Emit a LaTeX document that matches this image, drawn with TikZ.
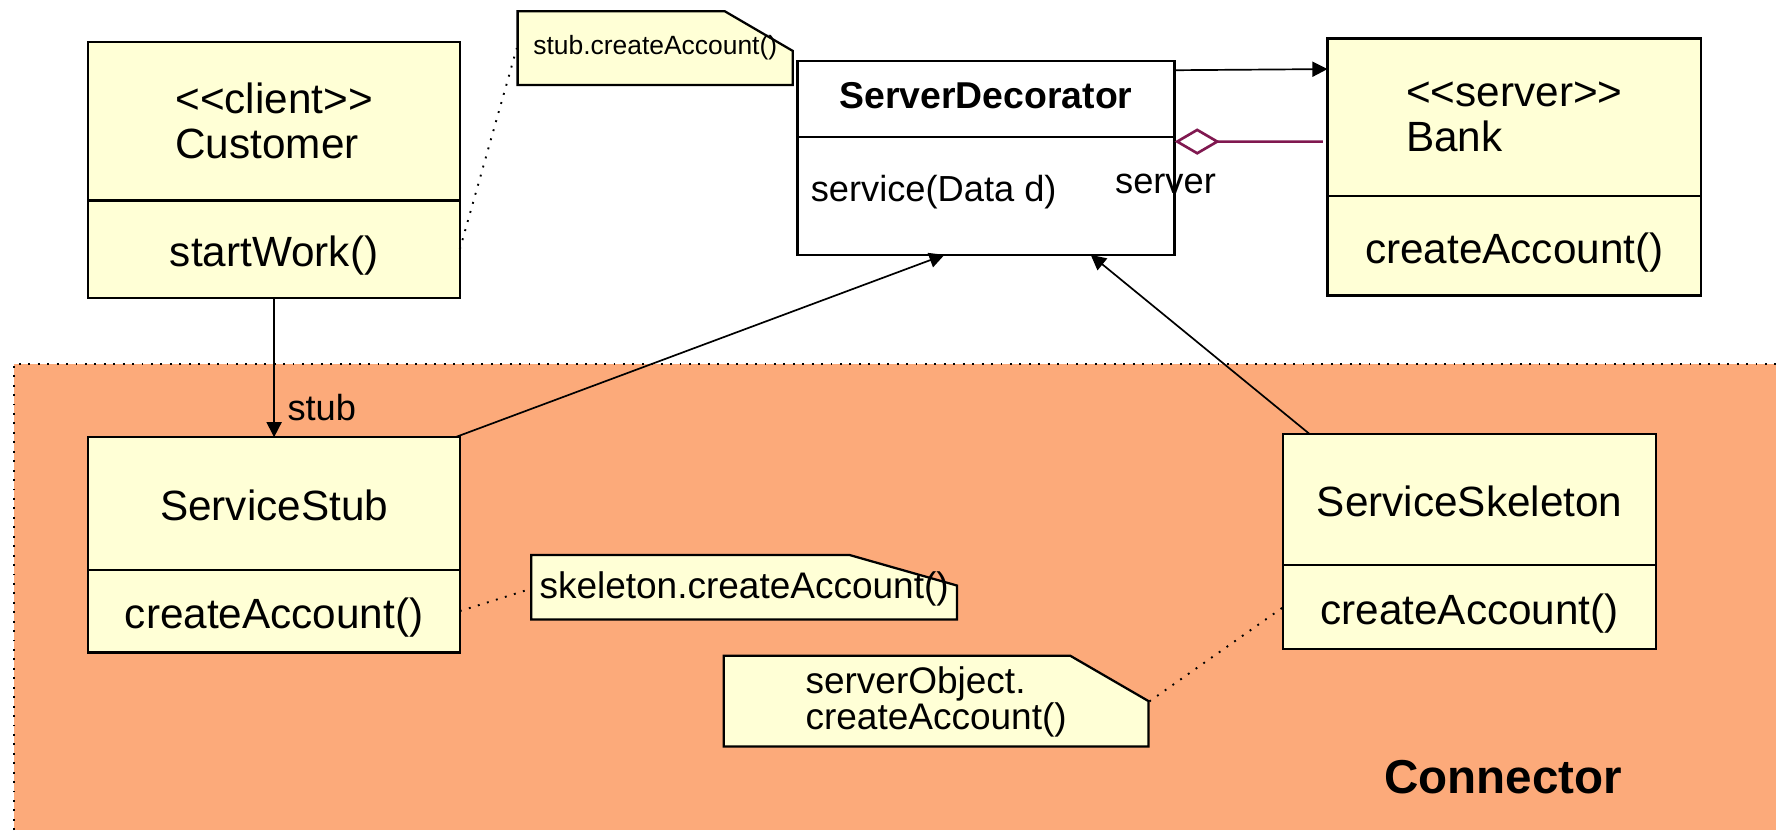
\documentclass[tikz,border=0pt]{standalone}
\usepackage{fontspec}
\setmainfont{Liberation Sans}
\usepackage{tikz}
\usetikzlibrary{arrows.meta,positioning,calc}
\definecolor{clsyellow}{RGB}{255,255,214}
\definecolor{connbg}{RGB}{252,170,122}
\definecolor{aggred}{RGB}{128,24,80}
\newcommand{\stereo}[1]{<\kern0pt<#1>\kern0pt>}
\tikzset{
  cls/.style={draw,fill=clsyellow,line width=.6pt,inner sep=0pt,outer sep=0pt,font=\fontsize{11.2}{12}\selectfont},
  clsname/.style={cls,text height=.88em,text depth=0pt},
  clsops/.style={cls,text height=.92em,text depth=0pt},
  notefill/.style={draw,fill=clsyellow,line width=.6pt},
  notetxt/.style={inner sep=0pt,font=\fontsize{9.8}{9.6}\selectfont},
  dotline/.style={dotted,line width=.5pt},
  lbl/.style={font=\fontsize{9.6}{11}\selectfont}
}

\begin{document}
\begin{tikzpicture}[x=.3pt,y=-.3pt,>={Triangle[length=4pt,width=4pt]},line width=.45pt]
\useasboundingbox (0,0) rectangle (1568,733);
\fill[connbg] (12,321) rectangle (1568,733);
\draw[dotline] (12,733) -- (12,321) -- (1568,321);

\node[cls,anchor=north west,minimum width=98.4pt,minimum height=42pt,align=left] (cust) at (78,37) {\stereo{client}\\Customer};
\node[clsops,below=0pt of cust,minimum width=98.4pt,minimum height=25.8pt] (custop) {startWork()};

\node[cls,fill=white,anchor=north west,minimum width=99.9pt,minimum height=20.1pt,text height=.73em,text depth=.25em,font=\fontsize{9.9}{12}\selectfont\bfseries] (sd) at (704,54) {ServerDecorator};
\node[cls,fill=white,below=0pt of sd,minimum width=99.9pt,minimum height=31.2pt] (sdop) {};
\node[lbl,anchor=west] (sdsvc) at ([yshift=1pt]sdop.west) {service(Data d)};

\node[cls,anchor=north west,minimum width=99pt,minimum height=41.7pt,align=left] (bank) at (1172,34) {\stereo{server}\\Bank};
\node[clsops,below=0pt of bank,minimum width=99pt,minimum height=26.4pt] (bankop) {createAccount()};

\node[clsname,anchor=north west,minimum width=98.4pt,minimum height=35.1pt] (stub) at (78,386) {ServiceStub};
\node[clsops,below=0pt of stub,minimum width=98.4pt,minimum height=21.9pt] (stubop) {createAccount()};

\node[clsname,anchor=north west,minimum width=98.7pt,minimum height=34.8pt] (skel) at (1133,383) {ServiceSkeleton};
\node[clsops,below=0pt of skel,minimum width=98.7pt,minimum height=22.2pt] (skelop) {createAccount()};

\draw[notefill] (457,75) -- (457,10) -- (640,10) -- (700,45) -- (700,75) -- cycle;
\node[notetxt,font=\fontsize{7}{8}\selectfont,minimum width=72.9pt,minimum height=19.5pt] (n1) at (578.5,42.5) {stub.createAccount()};
\draw[notefill] (469,547) -- (469,490) -- (750,490) -- (845,517) -- (845,547) -- cycle;
\node[notetxt,minimum width=112.8pt,minimum height=17.1pt] (n2) at (657,520) {skeleton.createAccount()};
\draw[notefill] (639,659) -- (639,579) -- (945,579) -- (1014,619) -- (1014,659) -- cycle;
\node[notetxt,align=left,minimum width=112.5pt,minimum height=24pt] (n3) at (826.5,620) {serverObject.\\createAccount()};

\draw[->] (custop.south) -- node[lbl,pos=.79,right] {stub} (stub.north);
\draw[->] ([xshift=-1.2pt]stub.north east) -- ([xshift=-11pt]sdop.south);
\draw[->] ([xshift=6.9pt]skel.north west) -- ([xshift=27.75pt]sdop.south);
\draw[->] ([yshift=-2.4pt]sd.north east) -- ([yshift=-8.1pt]bank.north west);
\draw[aggred,line width=.7pt,{Diamond[open,length=12pt,width=7pt]}-] ([yshift=-1.2pt]sd.south east) -- ($(sd.south east -| bank.west)+(-4,4)$);
\node[lbl] (srv) at (1029,162) {server};

\draw[dotline] (custop.east) -- (n1.west);
\draw[dotline] (stubop.east) -- (n2.west);
\draw[dotline] ([yshift=-12pt]n3.north east) -- (skelop.west);

\node[font=\fontsize{12.6}{14}\selectfont\bfseries] (conn) at (1327,686) {Connector};
\end{tikzpicture}
\end{document}
